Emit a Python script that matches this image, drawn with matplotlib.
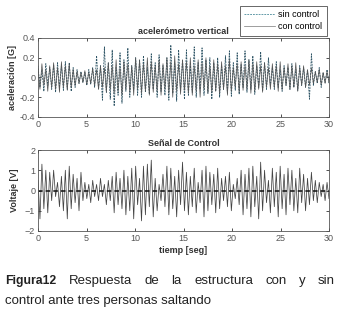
import numpy as np
import matplotlib
matplotlib.use("Agg")
import matplotlib.pyplot as plt

# ---- data (per-cycle extrema, 2.5 cycles / s) ----
sin_peaks = [0.12, 0.08, 0.14, 0.10, 0.13, 0.15, 0.12, 0.16,
             0.15, 0.10, 0.08, 0.06, 0.05, 0.08, 0.10,
             0.22, 0.12, 0.31, 0.15, 0.28, 0.10, 0.25, 0.18,
             0.30, 0.12, 0.20, 0.18, 0.22, 0.10, 0.24,
             0.15, 0.23, 0.12, 0.20, 0.33, 0.14, 0.28, 0.18,
             0.28, 0.12, 0.31, 0.15, 0.30, 0.18, 0.20,
             0.15, 0.20, 0.12, 0.22, 0.27, 0.15, 0.25, 0.13,
             0.27, 0.18, 0.22, 0.12, 0.26, 0.15, 0.20,
             0.10, 0.16, 0.08, 0.12, 0.10, 0.14, 0.08, 0.12,
             0.10, 0.08, 0.24, 0.06, 0.10, 0.05, 0.08]
sin_troughs = [-0.10, -0.14, -0.08, -0.12, -0.15, -0.10, -0.13, -0.12,
               -0.14, -0.10, -0.06, -0.05, -0.08, -0.07, -0.10,
               -0.12, -0.23, -0.15, -0.22, -0.29, -0.18, -0.26, -0.14,
               -0.20, -0.12, -0.18, -0.20, -0.15, -0.17, -0.12,
               -0.20, -0.14, -0.18, -0.23, -0.16, -0.24, -0.13, -0.22,
               -0.18, -0.15, -0.20, -0.12, -0.18, -0.16, -0.22,
               -0.14, -0.20, -0.12, -0.16, -0.19, -0.13, -0.17, -0.10,
               -0.15, -0.12, -0.17, -0.10, -0.14, -0.12, -0.08,
               -0.12, -0.10, -0.14, -0.08, -0.12, -0.10, -0.13, -0.08,
               -0.10, -0.22, -0.08, -0.06, -0.10, -0.05, -0.06]
con_peaks = [0.10, 0.14, 0.08, 0.12, 0.15, 0.10, 0.16, 0.12,
             0.14, 0.08, 0.06, 0.05, 0.07, 0.05, 0.09,
             0.08, 0.12, 0.10, 0.15, 0.12, 0.18, 0.10, 0.16,
             0.14, 0.12, 0.20, 0.18, 0.14, 0.20, 0.16,
             0.12, 0.18, 0.14, 0.20, 0.16, 0.22, 0.14, 0.18,
             0.16, 0.20, 0.12, 0.18, 0.15, 0.20, 0.12,
             0.18, 0.14, 0.16, 0.12, 0.18, 0.10, 0.14, 0.16,
             0.12, 0.18, 0.14, 0.16, 0.12, 0.15, 0.10,
             0.14, 0.12, 0.16, 0.10, 0.14, 0.12, 0.15, 0.10,
             0.12, 0.08, 0.10, 0.06, 0.08, 0.05, 0.06]
con_troughs = [-0.12, -0.08, -0.14, -0.10, -0.12, -0.15, -0.10, -0.13,
               -0.10, -0.08, -0.06, -0.05, -0.07, -0.06, -0.08,
               -0.12, -0.10, -0.15, -0.12, -0.16, -0.14, -0.18, -0.12,
               -0.15, -0.18, -0.12, -0.16, -0.14, -0.18, -0.15,
               -0.14, -0.18, -0.12, -0.16, -0.20, -0.14, -0.17, -0.13,
               -0.16, -0.18, -0.14, -0.20, -0.12, -0.16, -0.15,
               -0.14, -0.16, -0.12, -0.18, -0.14, -0.10, -0.15, -0.13,
               -0.12, -0.16, -0.14, -0.12, -0.15, -0.10, -0.12,
               -0.10, -0.14, -0.12, -0.08, -0.12, -0.10, -0.14, -0.08,
               -0.10, -0.08, -0.06, -0.05, -0.07, -0.06, -0.05]
ctl_peaks = [0.5, 1.3, 1.0, 0.9, 1.0, 0.4, 0.7, 1.0,
             1.2, 0.8, 0.6, 0.9, 0.4, 0.3, 0.5,
             0.3, 0.6, 0.3, 0.5, 0.7, 0.9, 0.6, 1.0,
             0.7, 1.1, 1.2, 0.6, 1.2, 1.3, 1.5,
             0.6, 0.3, 0.8, 1.2, 1.1, 0.7, 1.0, 1.4,
             0.9, 0.7, 1.1, 0.4, 1.0, 1.2, 0.9,
             0.8, 1.1, 0.6, 0.7, 0.9, 0.3, 0.6, 1.0,
             0.8, 1.1, 1.2, 0.7, 1.4, 1.0, 0.5,
             1.1, 0.9, 1.2, 0.8, 1.1, 1.0, 0.6, 1.1,
             0.8, 0.6, 0.9, 0.5, 0.4, 0.3, 0.4]
ctl_troughs = [-1.4, -0.9, -1.1, -0.5, -0.3, -0.8, -1.0, -1.4,
               -0.9, -0.6, -1.0, -0.5, -0.4, -0.6, -0.3,
               -0.5, -0.3, -0.7, -0.5, -1.1, -0.7, -0.9, -1.2,
               -1.0, -1.4, -0.7, -1.5, -1.2, -0.8, -1.3,
               -1.0, -0.5, -0.8, -1.2, -0.9, -1.3, -0.7, -1.0,
               -1.2, -0.8, -1.1, -0.6, -1.3, -1.0, -0.7,
               -1.1, -0.9, -0.5, -0.8, -1.0, -0.4, -0.7, -1.2,
               -0.9, -1.3, -0.8, -1.4, -1.0, -0.6, -1.1,
               -0.8, -1.3, -0.9, -1.2, -0.7, -1.0, -1.1, -0.6,
               -1.0, -0.7, -0.5, -0.6, -0.3, -0.5, -0.4]

x_ticks = [0, 5, 10, 15, 20, 25, 30]
acc_ticks = [-0.4, -0.2, 0, 0.2, 0.4]
acc_ticklabels = ["-0.4", "-0.2", "0", "0.2", "0.4"]
v_ticks = [-2, -1, 0, 1, 2]
legend_labels = ["sin control", "con control"]
caption_bold = "Figura12"
caption_line1 = "Respuesta de la estructura con y sin"
caption_line2 = "control ante tres personas saltando"


def zigzag(peaks, troughs, duration=30.0):
    y = np.empty(len(peaks) * 2)
    y[0::2] = peaks
    y[1::2] = troughs
    t = np.linspace(0, duration, len(y))
    return t, y


plt.rcParams['font.family'] = ['Liberation Sans', 'DejaVu Sans']
W, H = 343, 321
fig = plt.figure(figsize=(W/100, H/100), dpi=100)


def style(ax):
    ax.tick_params(direction='in', length=2.5, width=0.6, labelsize=6.5,
                   top=True, right=True, colors='#333333', pad=2,
                   labelcolor='#555555')
    for s in ax.spines.values():
        s.set_linewidth(0.6)
        s.set_color('#555555')
    ax.set_xlim(0, 30)
    ax.set_xticks(x_ticks)

# top axes
ax1 = fig.add_axes([38/W, 1-117/H, 291/W, 79/H])
t, y = zigzag(sin_peaks, sin_troughs)
ax1.plot(t, y, color='#2f5566', lw=0.6, ls=(0, (2.2, 1.2)), label=legend_labels[0])
t, y = zigzag(con_peaks, con_troughs)
ax1.plot(t, y, color='#555555', lw=0.5, label=legend_labels[1])
ax1.set_ylim(-0.4, 0.4)
ax1.set_yticks(acc_ticks)
ax1.set_yticklabels(acc_ticklabels)
style(ax1)
ax1.set_title('acelerómetro vertical', fontsize=6.5, fontweight='bold', pad=3,
              color='#333333')
ax1.set_ylabel('aceleración [G]', fontsize=6.5, fontweight='bold', labelpad=2,
               color='#333333')
leg = ax1.legend(loc='lower right', bbox_to_anchor=(327/W, 1-36/H),
                 bbox_transform=fig.transFigure, fontsize=6.5, frameon=True,
                 fancybox=False, handlelength=3.4, borderpad=0.5,
                 labelspacing=0.35, handletextpad=0.4, borderaxespad=0)
leg.get_frame().set_edgecolor('#222222')
leg.get_frame().set_linewidth(0.6)
leg.legend_handles[0].set_color('#4a8a9a')
leg.legend_handles[1].set_color('#777777')

# bottom axes
ax2 = fig.add_axes([38/W, 1-231/H, 291/W, 81/H])
t, y = zigzag(ctl_peaks, ctl_troughs)
ax2.plot(t, y, color='#444444', lw=0.55)
ax2.axhline(0, color='#111111', lw=1.1, ls=(0, (3, 2)))
ax2.set_ylim(-2, 2)
ax2.set_yticks(v_ticks)
style(ax2)
ax2.set_title('Señal de Control', fontsize=6.5, fontweight='bold', pad=3,
              color='#333333')
ax2.set_ylabel('Voltaje [V]', fontsize=6.5, fontweight='bold', labelpad=4,
               color='#333333')
ax2.set_xlabel('tiemp [seg]', fontsize=6.5, fontweight='bold', labelpad=2,
               color='#333333')

# caption: justified first line from x=5 to x=335
renderer = fig.canvas.get_renderer()
y1 = 1 - 281/H
fs = 9.5
items = [(caption_bold, 'bold', 8.8)] + [(w, 'normal', fs) for w in caption_line1.split()]
texts = []
widths = []
for w, fw, size in items:
    tt = fig.text(0, y1, w, fontsize=size, fontweight=fw, va='center', ha='left',
                  color='#222222')
    texts.append(tt)
    widths.append(tt.get_window_extent(renderer).width)
x0, x1 = 5, 335
gap = (x1 - x0 - sum(widths)) / (len(items) - 1)
xp = x0
for tt, wd in zip(texts, widths):
    tt.set_x(xp / W)
    xp += wd + gap
fig.text(5/W, 1-301/H, caption_line2, fontsize=fs, va='center', ha='left',
         color='#222222')

fig.savefig('out.png', dpi=100)
